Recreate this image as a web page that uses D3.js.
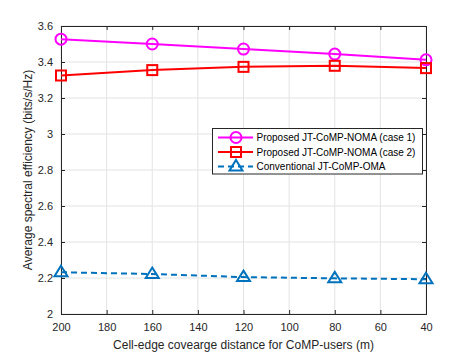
<!DOCTYPE html>
<html>
<head>
<meta charset="utf-8">
<script src="https://cdn.jsdelivr.net/npm/d3@7"></script>
<style>
  body { margin: 0; background: #fff; }
  text { font-family: "Liberation Sans", Arial, sans-serif; }
</style>
</head>
<body>
<div id="vis"></div>
<script>
// data
const distances = [200, 160, 120, 80, 40];
const case1 = [3.527, 3.50, 3.472, 3.444, 3.412];
const case2 = [3.325, 3.355, 3.373, 3.379, 3.366];
const oma = [2.232, 2.222, 2.205, 2.198, 2.193];
const xTicks = [200, 180, 160, 140, 120, 100, 80, 60, 40];
const yTicks = [2, 2.2, 2.4, 2.6, 2.8, 3, 3.2, 3.4, 3.6];
const seriesNames = ["Proposed JT-CoMP-NOMA (case 1)", "Proposed JT-CoMP-NOMA (case 2)", "Conventional JT-CoMP-OMA"];

const width = 471, height = 353;
const margin = { top: 26, bottom: 39, left: 61, right: 45 };

const svg = d3.select("#vis").append("svg")
  .attr("width", width)
  .attr("height", height);

const x = d3.scaleLinear().domain([200, 40]).range([margin.left, width - margin.right]);
const y = d3.scaleLinear().domain([2, 3.6]).range([height - margin.bottom, margin.top]);

// grid
svg.append("g").selectAll("line.gx")
  .data(xTicks).join("line")
  .attr("x1", d => x(d)).attr("x2", d => x(d))
  .attr("y1", y(2)).attr("y2", y(3.6))
  .attr("stroke", "#e3e3e3").attr("stroke-width", 1);
svg.append("g").selectAll("line.gy")
  .data(yTicks).join("line")
  .attr("x1", x(200)).attr("x2", x(40))
  .attr("y1", d => y(d)).attr("y2", d => y(d))
  .attr("stroke", "#e3e3e3").attr("stroke-width", 1);

// axes
const axisColor = "#262626";
const xAxis = svg.append("g")
  .attr("transform", `translate(0, ${y(2)})`)
  .call(d3.axisBottom(x).tickValues(xTicks).tickSize(-4).tickPadding(9).tickFormat(d3.format("d")));
const xTop = svg.append("g")
  .attr("transform", `translate(0, ${y(3.6)})`)
  .call(d3.axisTop(x).tickValues(xTicks).tickSize(-4).tickFormat(""));
const yAxis = svg.append("g")
  .attr("transform", `translate(${x(200)}, 0)`)
  .call(d3.axisLeft(y).tickValues(yTicks).tickSize(-4).tickPadding(8).tickFormat(d => d3.format("")(+d.toFixed(1))));
const yRight = svg.append("g")
  .attr("transform", `translate(${x(40)}, 0)`)
  .call(d3.axisRight(y).tickValues(yTicks).tickSize(-4).tickFormat(""));

[xAxis, xTop, yAxis, yRight].forEach(g => {
  g.select(".domain").attr("stroke", axisColor).attr("stroke-width", 1);
  g.selectAll(".tick line").attr("stroke", axisColor);
  g.selectAll(".tick text").attr("fill", axisColor).style("font-size", "11px")
    .style("font-family", "'Liberation Sans', Arial, sans-serif");
});

// axis labels
svg.append("text")
  .attr("x", (x(200) + x(40)) / 2)
  .attr("y", 349)
  .attr("text-anchor", "middle")
  .attr("fill", axisColor)
  .style("font-size", "12px")
  .text("Cell-edge covearge distance for CoMP-users (m)");
svg.append("text")
  .attr("transform", `translate(32, ${(y(2) + y(3.6)) / 2}) rotate(-90)`)
  .attr("text-anchor", "middle")
  .attr("fill", axisColor)
  .style("font-size", "12px")
  .text("Average spectral efficiency (bits/s/Hz)");

const series = [
  { name: seriesNames[0], values: case1, color: "#ff00ff", marker: "circle", dash: null },
  { name: seriesNames[1], values: case2, color: "#ff0000", marker: "square", dash: null },
  { name: seriesNames[2], values: oma, color: "#0072bd", marker: "triangle", dash: "6,4" }
];

function drawMarker(g, type, cx, cy, color) {
  if (type === "circle") {
    g.append("circle").attr("cx", cx).attr("cy", cy).attr("r", 5.5)
      .attr("fill", "none").attr("stroke", color).attr("stroke-width", 2);
  } else if (type === "square") {
    g.append("rect").attr("x", cx - 5).attr("y", cy - 5).attr("width", 10).attr("height", 10)
      .attr("fill", "none").attr("stroke", color).attr("stroke-width", 2);
  } else {
    const s = 6.5;
    g.append("path")
      .attr("d", `M${cx},${cy - s} L${cx + s},${cy + s * 0.6} L${cx - s},${cy + s * 0.6} Z`)
      .attr("fill", "none").attr("stroke", color).attr("stroke-width", 2).attr("stroke-linejoin", "miter");
  }
}

const line = d3.line().x((d, i) => x(distances[i])).y(d => y(d));

series.forEach(s => {
  const g = svg.append("g");
  g.append("path")
    .datum(s.values)
    .attr("d", line)
    .attr("fill", "none")
    .attr("stroke", s.color)
    .attr("stroke-width", 2)
    .attr("stroke-dasharray", s.dash);
  s.values.forEach((v, i) => drawMarker(g, s.marker, x(distances[i]), y(v), s.color));
});

// legend
const legend = svg.append("g");
legend.append("rect")
  .attr("x", 212.5).attr("y", 128.5).attr("width", 210).attr("height", 45.5)
  .attr("fill", "#fff").attr("stroke", axisColor).attr("stroke-width", 1);
series.forEach((s, i) => {
  const ly = 137.5 + i * 14.5;
  const g = legend.append("g");
  g.append("line").attr("x1", 218).attr("x2", 253).attr("y1", ly).attr("y2", ly)
    .attr("stroke", s.color).attr("stroke-width", 2).attr("stroke-dasharray", s.dash);
  drawMarker(g, s.marker, 236, ly, s.color);
  g.append("text").attr("x", 256.5).attr("y", ly + 3.5)
    .attr("fill", "#000").style("font-size", "10px").text(s.name);
});
</script>
</body>
</html>
